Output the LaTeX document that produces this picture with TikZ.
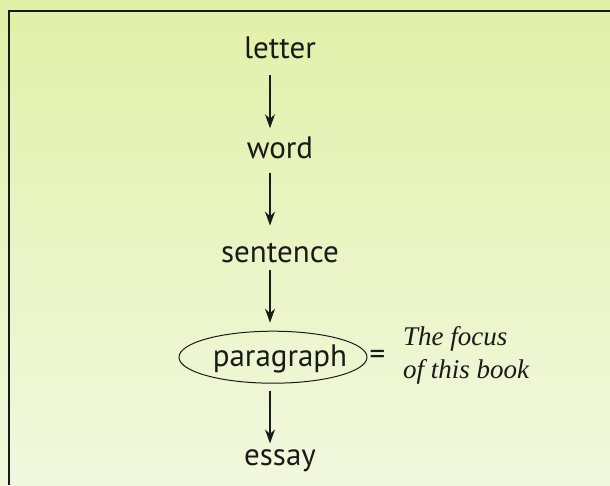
\documentclass[tikz,border=0pt]{standalone}
\usepackage{fontspec}
\setsansfont{PT Sans}
\newfontfamily\notefont{Liberation Serif}
\usetikzlibrary{positioning}
\usetikzlibrary{arrows.meta}
\usetikzlibrary{shapes.geometric}
\definecolor{paneltop}{HTML}{E2F0A8}
\definecolor{panelbottom}{HTML}{F1F8DE}
\definecolor{ink}{HTML}{1A1A1A}
\tikzset{level/.style={font=\sffamily\fontsize{31}{35}\selectfont, text=ink,
inner sep=0pt, text height=21pt, text depth=7pt}}
\tikzset{ring/.style={ellipse, draw=ink, line width=1pt, inner sep=0pt,
minimum width=188pt, minimum height=52pt}}
\tikzset{levelarrow/.style={line width=1.4pt, draw=ink,
-{Stealth[length=14pt, width=10pt]}}}

\begin{document}
\begin{tikzpicture}[x=1pt,y=-1pt]

        \useasboundingbox (0,0) rectangle (610,485);
        \shade[top color=paneltop, bottom color=panelbottom] (0,0) rectangle (610,485);
        \draw[ink, line width=1.4pt] (9,485) -- (9,11) -- (610,11);

        \node[level] (letter) at (280,51) {letter};
        \node[level] (word) [below=72pt of letter] {word};
        \node[level] (sentence) [below=76pt of word] {sentence};
        \node[level] (paragraph) [below=75pt of sentence] {paragraph};
        \node[level] (essay) [below=71pt of paragraph] {essay};

        \node[ring] (ring) at ([xshift=-7pt, yshift=2pt]paragraph.center) {};
        \node[level, right=2pt of ring] (equals) {=};
        \node[font=\notefont\itshape\fontsize{27}{33}\selectfont, text=ink, align=left,
              inner sep=0pt, anchor=west] (note) at (403,355) {The focus\\of this book};

        \draw[levelarrow, shorten <=10pt, shorten >=9pt]
            ([xshift=-10pt]letter.south) -- ([xshift=-10pt]word.north);
        \draw[levelarrow, shorten <=7pt, shorten >=16pt]
            ([xshift=-10pt]word.south) -- ([xshift=-10pt]sentence.north);
        \draw[levelarrow, shorten >=8pt]
            ([xshift=-10pt]sentence.south) -- ([xshift=-10pt]sentence.south |- ring.north);
        \draw[levelarrow, shorten <=7pt, shorten >=1pt]
            ([xshift=-10pt]essay.north |- ring.south) -- ([xshift=-10pt]essay.north);

\end{tikzpicture}
\end{document}
